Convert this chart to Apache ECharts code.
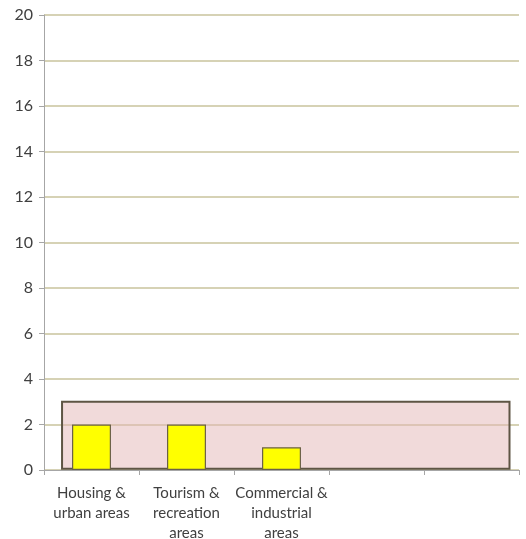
<!DOCTYPE html>
<html>
<head>
<meta charset="utf-8">
<script src="https://cdn.jsdelivr.net/npm/echarts@6/dist/echarts.min.js"></script>
<style>
  html, body { margin: 0; padding: 0; background: #fff; }
  #chart { width: 526px; height: 539px; }
</style>
</head>
<body>
<div id="chart"></div>
<script>
// data
var categories = ['Housing &\nurban areas', 'Tourism &\nrecreation\nareas', 'Commercial &\nindustrial\nareas', '', ''];
var counts = [2, 2, 1, null, null];
var yTicks = [0, 20, 2]; // min, max, step
// shaded band: position along the category axis (0..5) and its value range
var bandX = [0.19, 4.9];
var bandY = [0.05, 3];

var myChart = echarts.init(document.getElementById('chart'));

var option = {
    animation: false,
    grid: { left: 44, right: 7, top: 15, bottom: 69, outerBoundsMode: 'none', containLabel: false },
    xAxis: [{
        type: 'category',
        data: categories,
        axisLine: { lineStyle: { color: '#a6a6a6', width: 1 } },
        axisTick: { show: true, length: 5, lineStyle: { color: '#a6a6a6' } },
        axisLabel: {
            interval: 0, color: '#404040', fontFamily: 'Lato', fontSize: 15,
            lineHeight: 20, margin: 13
        }
    }, {
        type: 'value', min: 0, max: 5, show: false
    }],
    yAxis: {
        type: 'value',
        min: yTicks[0], max: yTicks[1], interval: yTicks[2],
        axisLine: { show: true, lineStyle: { color: '#a6a6a6' } },
        axisTick: { show: true, length: 5, lineStyle: { color: '#a6a6a6' } },
        axisLabel: { color: '#404040', fontFamily: 'Lato', fontSize: 16, margin: 11 },
        splitLine: { lineStyle: { color: '#c9c39c', width: 1.5 } }
    },
    series: [{
        type: 'line',
        xAxisIndex: 1,
        data: [],
        z: 1,
        markArea: {
            silent: true,
            itemStyle: {
                color: 'rgba(228,182,181,0.5)',
                borderColor: '#5e5544',
                borderWidth: 2
            },
            data: [[{ coord: [bandX[0], bandY[0]] }, { coord: [bandX[1], bandY[1]] }]]
        }
    }, {
        type: 'bar',
        data: counts,
        barWidth: '41%',
        z: 3,
        itemStyle: { color: '#ffff00', borderColor: '#6a6048', borderWidth: 1.2 }
    }]
};

myChart.setOption(option);
</script>
</body>
</html>
